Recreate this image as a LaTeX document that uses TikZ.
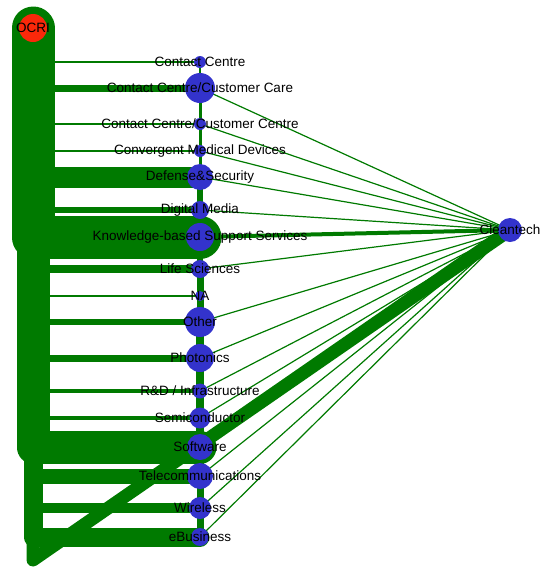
\documentclass[tikz,border=0pt]{standalone}
\usepackage{fontspec}
\setmainfont{Liberation Sans}
\usetikzlibrary{backgrounds}
\definecolor{edgegreen}{RGB}{0,122,0}
\definecolor{nodeblue}{RGB}{51,51,204}
\definecolor{ocrired}{RGB}{250,40,10}

\begin{document}
\begin{tikzpicture}[
  x=1pt, y=-1pt,
  every node/.style={font=\fontsize{13.5}{14}\selectfont},
  sector/.style={circle, fill=nodeblue, inner sep=0pt},
  tag/.style={label={[inner sep=0pt, text=black]center:#1}},
  link/.style={draw=edgegreen, line cap=round, line join=round, line width=#1},
  link/.default=1.2pt
]
\useasboundingbox (0,0) rectangle (552,571);

%% ---- Hubs ----------------------------------------------------------
\node[circle, fill=ocrired, inner sep=0pt, minimum size=28pt, tag=OCRI]
     (ocri) at (33,28) {};
\node[sector, minimum size=24pt, tag=Cleantech] (clean) at (510,230) {};

%% ---- Sector column -------------------------------------------------
\node[sector, minimum size=12pt, tag={Contact Centre}]                 (cc)    at (200,62)  {};
\node[sector, minimum size=30pt, tag={Contact Centre/Customer Care}]   (ccare) at (200,88)  {};
\node[sector, minimum size=12pt, tag={Contact Centre/Customer Centre}] (ccent) at (200,124) {};
\node[sector, minimum size=12pt, tag={Convergent Medical Devices}]     (conv)  at (200,151) {};
\node[sector, minimum size=26pt, tag={Defense\&Security}]              (def)   at (200,177) {};
\node[sector, minimum size=18pt, tag={Digital Media}]                  (dig)   at (200,210) {};
\node[sector, minimum size=28pt, tag={Knowledge-based Support Services}] (kbss) at (200,237) {};
\node[sector, minimum size=18pt, tag={Life Sciences}]                  (life)  at (200,269) {};
\node[sector, minimum size=10pt, tag=NA]                               (na)    at (200,296) {};
\node[sector, minimum size=30pt, tag=Other]                            (other) at (200,322) {};
\node[sector, minimum size=28pt, tag=Photonics]                        (phot)  at (200,358) {};
\node[sector, minimum size=15pt, tag={R\&D / Infrastructure}]          (rnd)   at (200,391) {};
\node[sector, minimum size=21pt, tag=Semiconductor]                    (semi)  at (200,418) {};
\node[sector, minimum size=26pt, tag=Software]                         (soft)  at (200,447) {};
\node[sector, minimum size=26pt, tag=Telecommunications]               (tele)  at (200,476) {};
\node[sector, minimum size=22pt, tag=Wireless]                         (wire)  at (200,508) {};
\node[sector, minimum size=18pt, tag=eBusiness]                        (ebus)  at (200,537) {};

\begin{scope}[on background layer]
  %% ---- OCRI links (down the left side, then across) ----------------
  \draw[link=43pt] (ocri.center) -- (ocri.center |- kbss)  -- (kbss.center);
  \draw[link=33pt] (ocri.center) -- (ocri.center |- soft)  -- (soft.center);
  \draw[link=19pt] (ocri.center) -- (ocri.center |- ebus)  -- (ebus.center);
  \coordinate (bend) at (33,560);
  \draw[link=13pt] (ocri.center) -- (bend) -- (clean.center);
  \draw[link]      (ocri.center) -- (ocri.center |- cc)    -- (cc.center);
  \draw[link=7pt]  (ocri.center) -- (ocri.center |- ccare) -- (ccare.center);
  \draw[link]      (ocri.center) -- (ocri.center |- ccent) -- (ccent.center);
  \draw[link]      (ocri.center) -- (ocri.center |- conv)  -- (conv.center);
  \draw[link=21pt] (ocri.center) -- (ocri.center |- def)   -- (def.center);
  \draw[link=6pt]  (ocri.center) -- (ocri.center |- dig)   -- (dig.center);
  \draw[link=8pt]  (ocri.center) -- (ocri.center |- life)  -- (life.center);
  \draw[link]      (ocri.center) -- (ocri.center |- na)    -- (na.center);
  \draw[link=6pt]  (ocri.center) -- (ocri.center |- other) -- (other.center);
  \draw[link=7pt]  (ocri.center) -- (ocri.center |- phot)  -- (phot.center);
  \draw[link=4pt]  (ocri.center) -- (ocri.center |- rnd)   -- (rnd.center);
  \draw[link=4pt]  (ocri.center) -- (ocri.center |- semi)  -- (semi.center);
  \draw[link=15pt] (ocri.center) -- (ocri.center |- tele)  -- (tele.center);
  \draw[link=10pt] (ocri.center) -- (ocri.center |- wire)  -- (wire.center);

  %% ---- Column links ------------------------------------------------
  \draw[link=2pt] (cc.center)    -- (ccare.center);
  \draw[link=3pt] (ccare.center) -- (ccent.center);
  \draw[link=3pt] (ccent.center) -- (conv.center);
  \draw[link=3pt] (conv.center)  -- (def.center);
  \draw[link=6pt] (def.center)   -- (dig.center);
  \draw[link=6pt] (dig.center)   -- (kbss.center);
  \draw[link=6pt] (kbss.center)  -- (life.center);
  \draw[link=7pt] (life.center)  -- (na.center);
  \draw[link=7pt] (na.center)    -- (other.center);
  \draw[link=8pt] (other.center) -- (phot.center);
  \draw[link=8pt] (phot.center)  -- (rnd.center);
  \draw[link=8pt] (rnd.center)   -- (semi.center);
  \draw[link=8pt] (semi.center)  -- (soft.center);
  \draw[link=7pt] (soft.center)  -- (tele.center);
  \draw[link=7pt] (tele.center)  -- (wire.center);
  \draw[link=7pt] (wire.center)  -- (ebus.center);

  %% ---- Cleantech links ---------------------------------------------
  \draw[link]     (ccare.center) -- (clean.center);
  \draw[link]     (ccent.center) -- (clean.center);
  \draw[link]     (conv.center)  -- (clean.center);
  \draw[link]     (def.center)   -- (clean.center);
  \draw[link]     (dig.center)   -- (clean.center);
  \draw[link=4pt] (kbss.center)  -- (clean.center);
  \draw[link]     (life.center)  -- (clean.center);
  \draw[link]     (other.center) -- (clean.center);
  \draw[link]     (phot.center)  -- (clean.center);
  \draw[link]     (rnd.center)   -- (clean.center);
  \draw[link]     (semi.center)  -- (clean.center);
  \draw[link]     (tele.center)  -- (clean.center);
  \draw[link]     (wire.center)  -- (clean.center);
  \draw[link]     (ebus.center)  -- (clean.center);
\end{scope}

\end{tikzpicture}
\end{document}
